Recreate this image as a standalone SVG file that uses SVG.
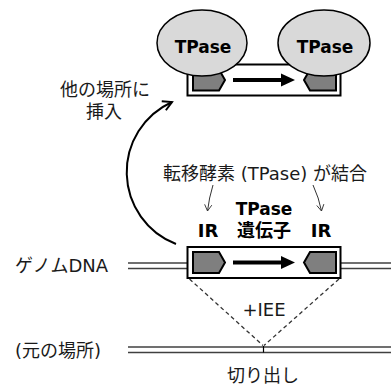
<svg xmlns="http://www.w3.org/2000/svg" width="391" height="385" viewBox="0 0 391 385">
  <style>
    text { font-family: "DejaVu Sans", "Noto Sans CJK JP", sans-serif; fill: #1a1a1a; }
    .lbl { font-size: 18px; }
    .bold { font-size: 18px; font-weight: bold; fill: #000; }
    .tp { font-size: 17px; font-weight: bold; fill: #000; }
    .frame { fill: #fff; stroke: #000; stroke-width: 2; }
    .ir { fill: #7f7f7f; stroke: #000; stroke-width: 2; stroke-linejoin: miter; }
    .dna { stroke: #404040; stroke-width: 1.5; fill: none; }
    .enzyme { fill: #d9d9d9; stroke: #000; stroke-width: 1.5; }
    .dash { stroke: #333; stroke-width: 1.3; stroke-dasharray: 4 3; fill: none; }
    .thin { stroke: #333; stroke-width: 1; fill: none; }
  </style>
  <defs>
    <!-- transposon body: frame, two inverted repeats and the gene arrow -->
    <g id="element">
      <rect class="frame" x="187.5" y="247" width="153" height="31"/>
      <polygon class="ir" points="193,252 219,252 225,262.5 219,273 193,273"/>
      <polygon class="ir" points="336,252 310,252 304,262.5 310,273 336,273"/>
      <line x1="233" y1="262.5" x2="283" y2="262.5" stroke="#000" stroke-width="4.2"/>
      <polygon points="281,256 295,262.5 281,269" fill="#000"/>
    </g>
    <marker id="open-head" viewBox="0 0 12 12" refX="10" refY="6" markerWidth="12" markerHeight="12" markerUnits="userSpaceOnUse" orient="auto">
      <path d="M1,1 L10,6 L1,11" fill="none" stroke="#000" stroke-width="2" stroke-linejoin="miter"/>
    </marker>
    <marker id="thin-head" viewBox="0 0 10 10" refX="8" refY="5" markerWidth="9" markerHeight="9" markerUnits="userSpaceOnUse" orient="auto">
      <path d="M1,1 L8,5 L1,9" fill="none" stroke="#333" stroke-width="1"/>
    </marker>
  </defs>

  <!-- genomic DNA strands -->
  <g id="genome-dna">
    <line class="dna" x1="128" y1="263" x2="188" y2="263"/>
    <line class="dna" x1="128" y1="268.5" x2="188" y2="268.5"/>
    <line class="dna" x1="340" y1="263" x2="391" y2="263"/>
    <line class="dna" x1="340" y1="268.5" x2="391" y2="268.5"/>
  </g>

  <g id="excised-site">
    <line class="dna" x1="128" y1="347" x2="391" y2="347"/>
    <line class="dna" x1="128" y1="352.5" x2="391" y2="352.5"/>
    <line stroke="#000" stroke-width="1.2" x1="263.5" y1="346" x2="263.5" y2="352.5"/>
  </g>

  <!-- transposon in place -->
  <g id="transposon">
    <use href="#element"/>
  </g>

  <!-- transposon at the new site, bound by two TPase -->
  <g id="transposon-inserted">
    <use href="#element" transform="translate(0,-182.5)"/>
  </g>
  <g id="tpase-left">
    <ellipse class="enzyme" cx="202" cy="43" rx="45" ry="33"/>
    <text class="tp" x="203" y="53" text-anchor="middle">TPase</text>
  </g>
  <g id="tpase-right">
    <ellipse class="enzyme" cx="324" cy="43" rx="46" ry="33"/>
    <text class="tp" x="325" y="53" text-anchor="middle">TPase</text>
  </g>

  <!-- connectors -->
  <g id="connectors">
    <path d="M176,244 A77,77 0 0 1 172,102" fill="none" stroke="#000" stroke-width="2" marker-end="url(#open-head)"/>
    <path class="thin" d="M213,185 Q209,198 207.5,211" marker-end="url(#thin-head)"/>
    <path class="thin" d="M313,185 Q319,198 321.5,211" marker-end="url(#thin-head)"/>
    <line class="dash" x1="189.5" y1="279" x2="263" y2="345.5"/>
    <line class="dash" x1="339" y1="279" x2="264" y2="345.5"/>
  </g>

  <!-- labels -->
  <g id="labels">
    <text class="lbl" x="105" y="96" text-anchor="middle">他の場所に</text>
    <text class="lbl" x="104" y="118" text-anchor="middle">挿入</text>
    <text class="lbl" x="265" y="180" text-anchor="middle">転移酵素 (TPase) が結合</text>
    <text class="tp" x="264" y="215" text-anchor="middle">TPase</text>
    <text class="bold" x="264" y="237" text-anchor="middle">遺伝子</text>
    <text class="bold" x="208" y="237" text-anchor="middle">IR</text>
    <text class="bold" x="321" y="237" text-anchor="middle">IR</text>
    <text class="lbl" x="15" y="272">ゲノムDNA</text>
    <text class="lbl" x="264" y="316" text-anchor="middle">+IEE</text>
    <text class="lbl" x="15" y="357">(元の場所)</text>
    <text class="lbl" x="263" y="382" text-anchor="middle">切り出し</text>
  </g>
</svg>
